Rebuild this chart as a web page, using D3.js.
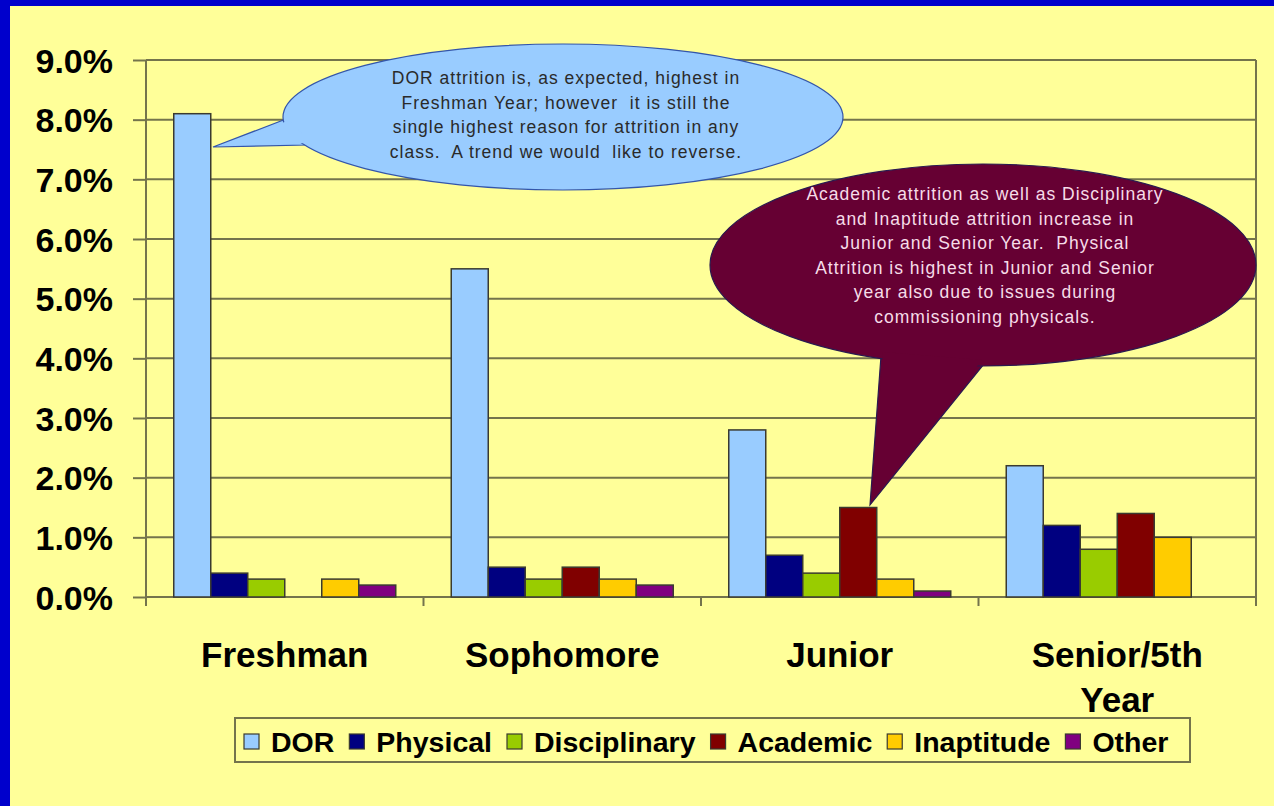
<!DOCTYPE html>
<html><head><meta charset="utf-8">
<script src="https://cdn.jsdelivr.net/npm/d3@7"></script>
<style>
html,body{margin:0;padding:0;background:#FFFF99;}
svg{display:block;font-family:"Liberation Sans",Arial,sans-serif;}
.note{white-space:pre;}
</style></head>
<body><svg id="c" width="1274" height="806"></svg>
<script>
const categories = ["Freshman", "Sophomore", "Junior", "Senior/5th Year"];
const series = ["DOR", "Physical", "Disciplinary", "Academic", "Inaptitude", "Other"];
const colors = ["#99CCFF", "#000080", "#99CC00", "#800000", "#FFCC00", "#800080"];
const DOR = [8.1, 5.5, 2.8, 2.2];
const Physical = [0.4, 0.5, 0.7, 1.2];
const Disciplinary = [0.3, 0.3, 0.4, 0.8];
const Academic = [0.0, 0.5, 1.5, 1.4];
const Inaptitude = [0.3, 0.3, 0.3, 1.0];
const Other = [0.2, 0.2, 0.1, 0.0];
const yTicks = [0, 1, 2, 3, 4, 5, 6, 7, 8, 9];
const note1 = ["DOR attrition is, as expected, highest in", "Freshman Year; however  it is still the", "single highest reason for attrition in any", "class.  A trend we would  like to reverse."];
const note2 = ["Academic attrition as well as Disciplinary", "and Inaptitude attrition increase in", "Junior and Senior Year.  Physical", "Attrition is highest in Junior and Senior", "year also due to issues during", "commissioning physicals."];

(function () {
const seriesValues = [DOR, Physical, Disciplinary, Academic, Inaptitude, Other];
const svg = d3.select("#c");
const W = 1274, H = 806;
svg.append("rect").attr("width", W).attr("height", H).attr("fill", "#FFFF99");
// blue frame
svg.append("rect").attr("x", 0).attr("y", 0).attr("width", W).attr("height", 6).attr("fill", "#0000CC");
svg.append("rect").attr("x", 0).attr("y", 0).attr("width", 10).attr("height", H).attr("fill", "#0000CC");

const pL = 146, pR = 1256, pT = 60, pB = 597;
const x0 = d3.scaleBand().domain(categories).range([pL, pR]).padding(0);
const x1 = d3.scaleBand().domain(series).range([0, x0.bandwidth()]).paddingInner(0).paddingOuter(0.75);
const y = d3.scaleLinear().domain([0, 9]).range([pB, pT]);
const gridCol = "#74744c";

// gridlines
svg.append("g").selectAll("line").data(yTicks).join("line")
  .attr("x1", pL).attr("x2", pR).attr("y1", d => y(d)).attr("y2", d => y(d))
  .attr("stroke", gridCol).attr("stroke-width", 2);
// right frame
svg.append("line").attr("x1", pR).attr("x2", pR).attr("y1", pT).attr("y2", pB)
  .attr("stroke", gridCol).attr("stroke-width", 2);

// y axis
const yAxis = d3.axisLeft(y).tickValues(yTicks).tickFormat(d => d.toFixed(1) + "%").tickSize(13).tickPadding(20);
const ga = svg.append("g").attr("transform", `translate(${pL},0)`).call(yAxis);
ga.select(".domain").attr("stroke", gridCol).attr("stroke-width", 2).attr("d", `M0,${pT}V${pB + 8}`);
ga.selectAll(".tick line").attr("stroke", gridCol).attr("stroke-width", 2);
ga.selectAll(".tick text").attr("fill", "#000").attr("font-size", 34).attr("font-weight", "bold")
  .attr("font-family", "Liberation Sans, Arial, sans-serif").attr("dy", "0.36em");

// x axis ticks
const xt = categories.map(c => x0(c)).concat([pR]);
svg.append("g").selectAll("line").data(xt).join("line")
  .attr("x1", d => d).attr("x2", d => d).attr("y1", pB).attr("y2", pB + 9)
  .attr("stroke", gridCol).attr("stroke-width", 2);

// bars
const rows = [];
categories.forEach((c, i) => series.forEach((s, j) => rows.push({c, s, v: seriesValues[j][i], col: colors[j]})));
svg.append("g").selectAll("rect").data(rows.filter(r => r.v > 0)).join("rect")
  .attr("x", d => x0(d.c) + x1(d.s)).attr("width", x1.bandwidth())
  .attr("y", d => y(d.v)).attr("height", d => y(0) - y(d.v))
  .attr("fill", d => d.col).attr("stroke", "#3a3a30").attr("stroke-width", 1.5);

// category labels
categories.forEach(c => {
  const cx = x0(c) + x0.bandwidth() / 2;
  const t = svg.append("text").attr("x", cx).attr("y", 667).attr("text-anchor", "middle")
    .attr("font-size", 35).attr("font-weight", "bold").attr("fill", "#000");
  const parts = c === "Senior/5th Year" ? ["Senior/5th", "Year"] : [c];
  parts.forEach((p, k) => t.append("tspan").attr("x", cx).attr("dy", k ? 45 : 0).text(p));
});

// legend
const lg = svg.append("g");
lg.append("rect").attr("x", 235).attr("y", 718).attr("width", 955).attr("height", 44)
  .attr("fill", "#FFFF99").attr("stroke", gridCol).attr("stroke-width", 2);
let lx = 244;
series.forEach((s, j) => {
  lg.append("rect").attr("x", lx).attr("y", 734).attr("width", 15).attr("height", 15)
    .attr("fill", colors[j]).attr("stroke", "#3a3a30").attr("stroke-width", 1.2);
  const t = lg.append("text").attr("x", lx + 27).attr("y", 752).attr("font-size", 28.5)
    .attr("font-weight", "bold").attr("fill", "#000").text(s);
  lx += 27 + t.node().getComputedTextLength() + 15;
});

// callout 1 (blue)
const c1 = svg.append("g");
c1.append("path").attr("d", "M286,119 L213,147 L306,145 Z").attr("fill", "#99CCFF").attr("stroke", "#3355aa").attr("stroke-width", 1.2);
c1.append("ellipse").attr("cx", 563).attr("cy", 117).attr("rx", 280).attr("ry", 73)
  .attr("fill", "#99CCFF").attr("stroke", "#3355aa").attr("stroke-width", 1.2);
c1.append("path").attr("d", "M290,120 L222,145.5 L310,143 Z").attr("fill", "#99CCFF");
note1.forEach((l, i) => c1.append("text").attr("class", "note").attr("x", 566).attr("y", 84 + i * 24.7)
  .attr("text-anchor", "middle").attr("font-size", 17.5).attr("letter-spacing", 1)
  .attr("fill", "#2a2a2a").text(l));

// callout 2 (maroon)
const c2 = svg.append("g");
c2.append("path").attr("d", "M881,356 L870,505 L984,364 Z").attr("fill", "#660033").attr("stroke", "#2a1a50").attr("stroke-width", 1.2);
c2.append("ellipse").attr("cx", 983).attr("cy", 265).attr("rx", 273).attr("ry", 101)
  .attr("fill", "#660033").attr("stroke", "#2a1a50").attr("stroke-width", 1.2);
c2.append("path").attr("d", "M883,352 L872,498 L982,360 Z").attr("fill", "#660033");
note2.forEach((l, i) => c2.append("text").attr("class", "note").attr("x", 985).attr("y", 200 + i * 24.5)
  .attr("text-anchor", "middle").attr("font-size", 17.5).attr("letter-spacing", 1)
  .attr("fill", "#f6dce8").text(l));
})();
</script></body></html>
